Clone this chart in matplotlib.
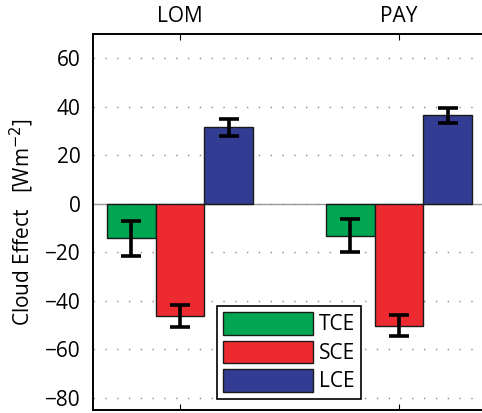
import matplotlib.pyplot as plt
import numpy as np

# site-mean cloud effects and their spread
sites = ['LOM', 'PAY']
labels = ['TCE', 'SCE', 'LCE']
tce = [-14.3, -13.2]
sce = [-46.1, -50.2]
lce = [31.5, 36.5]
tce_err = [7.2, 6.8]
sce_err = [4.5, 4.3]
lce_err = [3.4, 3.2]
yticks = [-80, -60, -40, -20, 0, 20, 40, 60]

colors = ['#00a651', '#ed2a30', '#333c93']

plt.rcParams['font.family'] = ['Open Sans', 'DejaVu Sans']

fig = plt.figure(figsize=(4.82, 4.13), dpi=100)
ax = fig.add_axes([93 / 482, 3 / 413, 393 / 482, 376 / 413])

x = np.arange(1, len(sites) + 1)
w = 0.222
series = [(tce, tce_err), (sce, sce_err), (lce, lce_err)]
for i, (vals, errs) in enumerate(series):
    pos = x + (i - 1) * w
    ax.bar(pos, vals, width=w, color=colors[i], edgecolor='#1a1a1a',
           linewidth=1, label=labels[i], zorder=3)
    ax.errorbar(pos, vals, yerr=errs, fmt='none', ecolor='black',
                elinewidth=2.6, capsize=7, capthick=2.6, zorder=4)

ax.axhline(0, color='#999999', linewidth=1, zorder=2)
ax.set_xlim(0.603, 2.397)
ax.set_ylim(-85, 70)
ax.set_yticks(yticks)
ax.set_xticks(x)
ax.set_xticklabels(sites)
ax.tick_params(axis='x', top=True, bottom=True, labeltop=True,
               labelbottom=False, direction='in', length=4, labelsize=15,
               pad=5)
ax.tick_params(axis='y', direction='in', length=0, labelsize=15, pad=9)
ax.yaxis.grid(True, linestyle=(0, (1, 7.5)), color='#888888', linewidth=1)
ax.set_axisbelow(True)
for s in ax.spines.values():
    s.set_linewidth(1.4)
ax.set_yticklabels([str(t).replace('-', '\u2212') for t in yticks])
ax.set_ylabel('Cloud Effect   [Wm$^{-2}$]', fontsize=15, labelpad=6)

leg = ax.legend(loc='lower left', bbox_to_anchor=(0.315, 0.03),
                fontsize=15, handlelength=4.3, handleheight=1.3,
                fancybox=False, edgecolor='black', framealpha=1,
                borderpad=0.3, labelspacing=0.25, handletextpad=0.3,
                borderaxespad=0)
leg.get_frame().set_linewidth(1.2)

fig.savefig('out.png', dpi=100)
